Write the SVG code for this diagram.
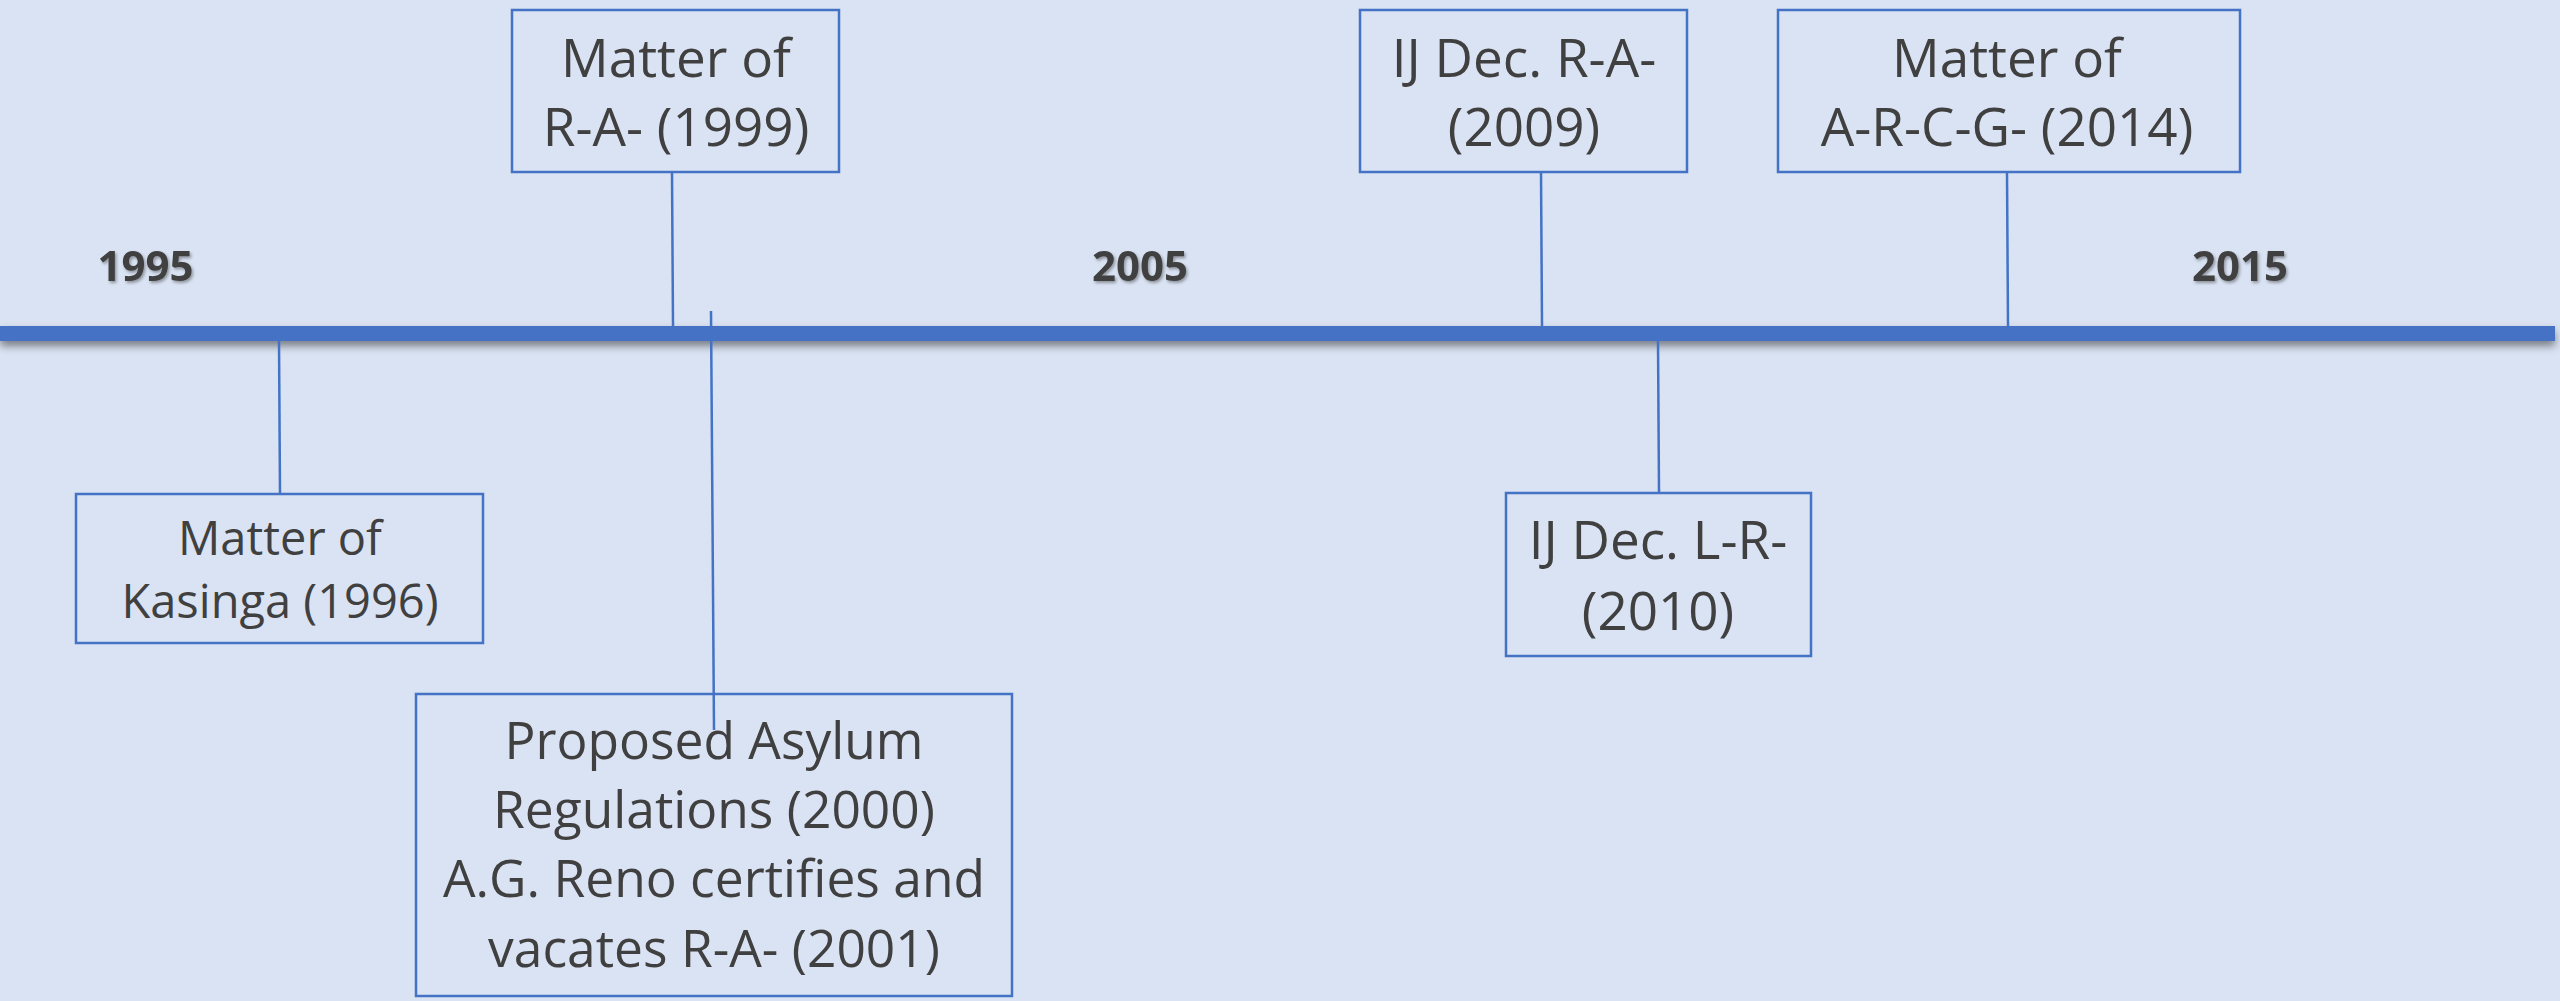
<svg xmlns="http://www.w3.org/2000/svg" width="2560" height="1001" viewBox="0 0 2560 1001">
<defs>
  <filter id="barShadow" x="-1%" y="-100%" width="102%" height="400%">
    <feDropShadow dx="0" dy="5" stdDeviation="4" flood-color="#000" flood-opacity="0.45"/>
  </filter>
  <filter id="txtShadow" x="-10%" y="-20%" width="120%" height="150%">
    <feDropShadow dx="1.5" dy="2" stdDeviation="1.5" flood-color="#000" flood-opacity="0.35"/>
  </filter>
</defs>
<style>
  .box { fill: none; stroke: #4472C4; stroke-width: 2.5; }
  .conn { stroke: #4472C4; stroke-width: 2.5; fill: none; }
  .lbl { font-family: "Open Sans", "Liberation Sans", sans-serif; font-size: 53px; fill: #404040; text-anchor: middle; }
  .small { font-size: 47px; }
  .mid { font-size: 51.5px; }
  .year { font-family: "Open Sans", "Liberation Sans", sans-serif; font-size: 42px; font-weight: bold; fill: #404040; text-anchor: middle; }
</style>
<rect x="0" y="0" width="2560" height="1001" fill="#DAE3F3"/>

<g id="axis">
  <rect x="0" y="326" width="2555" height="15" fill="#4472C4" filter="url(#barShadow)"/>
  <text class="year" x="145.5" y="281" filter="url(#txtShadow)">1995</text>
  <text class="year" x="1140" y="281" filter="url(#txtShadow)">2005</text>
  <text class="year" x="2240" y="281" filter="url(#txtShadow)">2015</text>
</g>

<g id="connectors">
  <line class="conn" x1="279" y1="341" x2="280" y2="494"/>
  <line class="conn" x1="672" y1="172" x2="673" y2="326"/>
  <line class="conn" x1="711" y1="311" x2="714" y2="730"/>
  <line class="conn" x1="1541" y1="172" x2="1542" y2="326"/>
  <line class="conn" x1="1658" y1="341" x2="1659" y2="493"/>
  <line class="conn" x1="2007" y1="172" x2="2008" y2="326"/>
</g>

<g id="node-kasinga">
  <rect class="box" x="76" y="494" width="407" height="149"/>
  <text class="lbl small" x="280" y="555">Matter of</text>
  <text class="lbl small" x="280" y="618">Kasinga (1996)</text>
</g>

<g id="node-ra-1999">
  <rect class="box" x="512" y="10" width="327" height="162"/>
  <text class="lbl" x="676" y="77">Matter of</text>
  <text class="lbl" x="676" y="146">R-A- (1999)</text>
</g>

<g id="node-proposed">
  <rect class="box" x="416" y="694" width="596" height="302"/>
  <text class="lbl mid" x="714" y="759">Proposed Asylum</text>
  <text class="lbl mid" x="714" y="828">Regulations (2000)</text>
  <text class="lbl mid" x="714" y="897">A.G. Reno certifies and</text>
  <text class="lbl mid" x="714" y="967">vacates R-A- (2001)</text>
</g>

<g id="node-ij-ra-2009">
  <rect class="box" x="1360" y="10" width="327" height="162"/>
  <text class="lbl" x="1524" y="77">IJ Dec. R-A-</text>
  <text class="lbl" x="1524" y="146">(2009)</text>
</g>

<g id="node-ij-lr-2010">
  <rect class="box" x="1506" y="493" width="305" height="163"/>
  <text class="lbl" x="1658" y="559">IJ Dec. L-R-</text>
  <text class="lbl" x="1658" y="630">(2010)</text>
</g>

<g id="node-arcg-2014">
  <rect class="box" x="1778" y="10" width="462" height="162"/>
  <text class="lbl" x="2007" y="77">Matter of</text>
  <text class="lbl" x="2007" y="146">A-R-C-G- (2014)</text>
</g>
</svg>
